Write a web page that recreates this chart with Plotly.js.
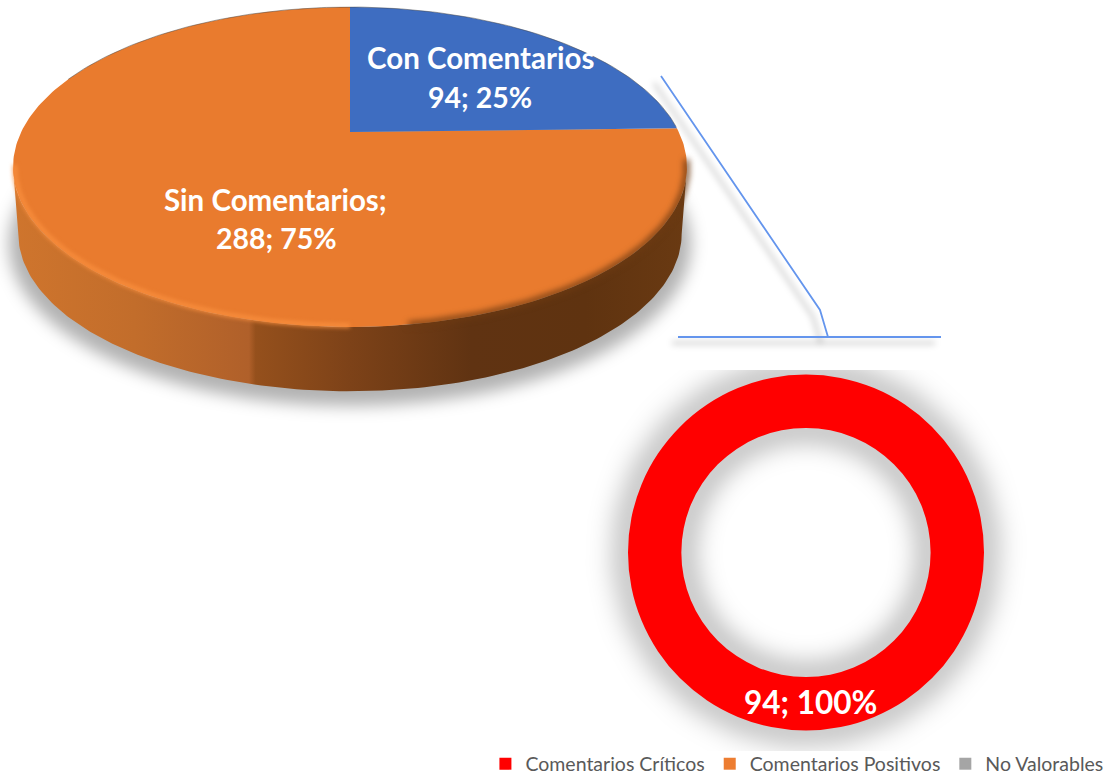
<!DOCTYPE html>
<html>
<head>
<meta charset="utf-8">
<script src="https://cdn.plot.ly/plotly-3.0.1.min.js"></script>
<style>html,body{margin:0;padding:0;background:#fff}#chart{width:1104px;height:775px}</style>
</head>
<body>
<div id="chart"></div>
<script>
// ---- data ----
const pieLabels = ['Con Comentarios', 'Sin Comentarios'];
const pieValues = [94, 288];
const pieColors = ['#3e6dc1', '#e97b2e'];
const donutLabels = ['Comentarios Críticos', 'Comentarios Positivos', 'No Valorables'];
const donutValues = [94, 0, 0];
const donutColors = ['#ff0000', '#ed7d31', '#a5a5a5'];

// ---- perspective disc geometry (pixel space axes) ----
const cx = 350, apexY = 132, a = 328.8, b = 152.3, p = 0.21875, depth = 68;
const edgeR = 102.6, edgeL = 257.4; // angles of the disc's left and right silhouette
function project(deg, scale, dy) {
  const t = deg * Math.PI / 180, u = Math.sin(t) * scale, v = Math.cos(t) * scale;
  const w = 1 + p * v;
  return [cx + a * u / w, apexY - b * v / w + dy];
}
function arc(from, to, scale, dy) {
  const xs = [], ys = [], n = Math.max(2, Math.ceil(Math.abs(to - from)));
  for (let i = 0; i <= n; i++) {
    const q = project(from + (to - from) * i / n, scale, dy);
    xs.push(q[0]); ys.push(q[1]);
  }
  return [xs, ys];
}
function circle(x0, y0, r) {
  const xs = [], ys = [];
  for (let i = 0; i <= 180; i++) {
    const t = i * 2 * Math.PI / 180;
    xs.push(x0 + r * Math.cos(t)); ys.push(y0 + r * Math.sin(t));
  }
  return [xs, ys];
}
const total = pieValues[0] + pieValues[1];
const split = 360 * pieValues[0] / total;
const pct = (v, t) => Math.round(v / t * 100) + '%';

const donutC = [806, 552.5], donutR = 178, donutHole = 0.70;
const W = 1104, H = 775;
const traces = [];
function add(tr, blur) {
  tr.type = 'scatter'; tr.hoverinfo = 'skip'; tr.showlegend = false;
  tr.mode = tr.mode || 'lines';
  if (tr.fill) tr.line = tr.line || {width: 0};
  tr._blur = blur;
  traces.push(tr);
}
// donut glow
const ringO = circle(donutC[0], donutC[1], donutR + 1);
const ringI = circle(donutC[0], donutC[1], donutR * donutHole - 1);
add({x: ringO[0], y: ringO[1], line: {color: 'rgba(0,0,0,0.30)', width: 24}}, 14);
add({x: ringI[0], y: ringI[1], line: {color: 'rgba(0,0,0,0.30)', width: 22}}, 13);
// clipped edges of the donut glow
add({x: [590, 1030, 1030, 590, 590], y: [320, 320, 370, 370, 320], fill: 'toself', fillcolor: '#ffffff'});
add({x: [480, 1104, 1104, 480, 480], y: [751, 751, 775, 775, 751], fill: 'toself', fillcolor: '#ffffff'});
// soft shadow of the disc
const shadow = arc(0, 360, 1.012, depth + 8);
add({x: shadow[0], y: shadow[1], fill: 'toself', fillcolor: 'rgba(0,0,0,0.30)'}, 8);
// shadow of leader lines
add({x: [654, 813, 821], y: [83, 317, 343], line: {color: 'rgba(0,0,0,0.22)', width: 3}}, 3);
add({x: [672, 935], y: [343, 343], line: {color: 'rgba(0,0,0,0.22)', width: 3}}, 3);
// side wall
const sideTop = arc(edgeR, edgeL, 1, 0), sideBot = arc(edgeL, edgeR, 0.985, depth);
add({
  x: sideTop[0].concat(sideBot[0]), y: sideTop[1].concat(sideBot[1]), fill: 'toself',
  fillcolor: '#8f4c1a',
  fillgradient: {type: 'horizontal', colorscale: [
    [0, '#cf752d'], [0.18, '#c26d2b'], [0.35, '#b0602a'], [0.36, '#95501c'],
    [0.5, '#7d4218'], [0.68, '#603312'], [0.85, '#5f3310'], [1, '#6a3a12']]}
});
// top face: slices come from the values
const sinArc = arc(split, 360, 1, 0);
add({x: [cx].concat(sinArc[0], [cx]), y: [apexY].concat(sinArc[1], [apexY]), fill: 'toself', fillcolor: pieColors[1]});
const conArc = arc(0, split, 1, 0);
add({x: [cx].concat(conArc[0], [cx]), y: [apexY].concat(conArc[1], [apexY]), fill: 'toself', fillcolor: pieColors[0]});
// rim details
const rimTop = arc(-68, 88, 1, 0);
add({x: rimTop[0], y: rimTop[1], line: {color: 'rgba(70,70,70,0.5)', width: 1}});
const hi = arc(180, 258, 0.995, 0);
add({x: hi[0], y: hi[1], line: {color: '#f98f3e', width: 4}}, 2);
const lo = arc(100, 172, 1, 0);
add({x: lo[0], y: lo[1], line: {color: '#6d3a12', width: 5}}, 3);

// donut + legend
traces.push({
  type: 'pie', labels: donutLabels, values: donutValues, hole: donutHole,
  sort: false, direction: 'clockwise', rotation: 0,
  marker: {colors: donutColors, line: {width: 0}},
  textinfo: 'none', hoverinfo: 'label+value+percent',
  domain: {
    x: [(donutC[0] - donutR) / W, (donutC[0] + donutR) / W],
    y: [1 - (donutC[1] + donutR) / H, 1 - (donutC[1] - donutR) / H]
  }
});

const lbl = {family: 'Lato, Carlito, sans-serif', size: 28, color: '#ffffff', weight: 700};
function note(text, x, y, size) {
  return {text: text, x: x, y: y, xref: 'x', yref: 'y', showarrow: false,
          xanchor: 'center', yanchor: 'middle', font: Object.assign({}, lbl, {size: size})};
}
const layout = {
  width: W, height: H, margin: {l: 0, r: 0, t: 0, b: 0, autoexpand: false},
  paper_bgcolor: '#ffffff', plot_bgcolor: 'rgba(0,0,0,0)',
  xaxis: {range: [0, W], visible: false, fixedrange: true},
  yaxis: {range: [H, 0], visible: false, fixedrange: true},
  showlegend: true,
  legend: {
    orientation: 'h', x: 1.004, xanchor: 'right', y: -0.011, yanchor: 'bottom',
    font: {family: 'Lato, Carlito, sans-serif', size: 19.5, color: '#595959'},
    bgcolor: 'rgba(0,0,0,0)', itemclick: false, itemdoubleclick: false, traceorder: 'normal'
  },
  shapes: [
    {type: 'path', path: 'M661,76 L820,310 L828,337', line: {color: '#6495ed', width: 1.8}, layer: 'above'},
    {type: 'line', x0: 678, x1: 941, y0: 337, y1: 337, line: {color: '#6495ed', width: 1.8}, layer: 'above'}
  ],
  annotations: [
    note(pieLabels[0], 480, 57, 29.5),
    note(pieValues[0] + '; ' + pct(pieValues[0], total), 480, 97, 28.5),
    note(pieLabels[1] + ';', 275, 199, 29.5),
    note(pieValues[1] + '; ' + pct(pieValues[1], total), 276, 238, 28.5),
    note(donutValues[0] + '; ' + pct(donutValues[0], donutValues[0] + donutValues[1] + donutValues[2]), 810, 702, 31.5)
  ]
};
const blurs = traces.map(t => t._blur);
traces.forEach(t => delete t._blur);
Plotly.newPlot('chart', traces, layout, {displayModeBar: false, responsive: false}).then(gd => {
  const nodes = gd.querySelectorAll('.scatterlayer .trace');
  nodes.forEach((n, i) => { if (blurs[i]) n.style.filter = 'blur(' + blurs[i] + 'px)'; });
});
</script>
</body>
</html>
